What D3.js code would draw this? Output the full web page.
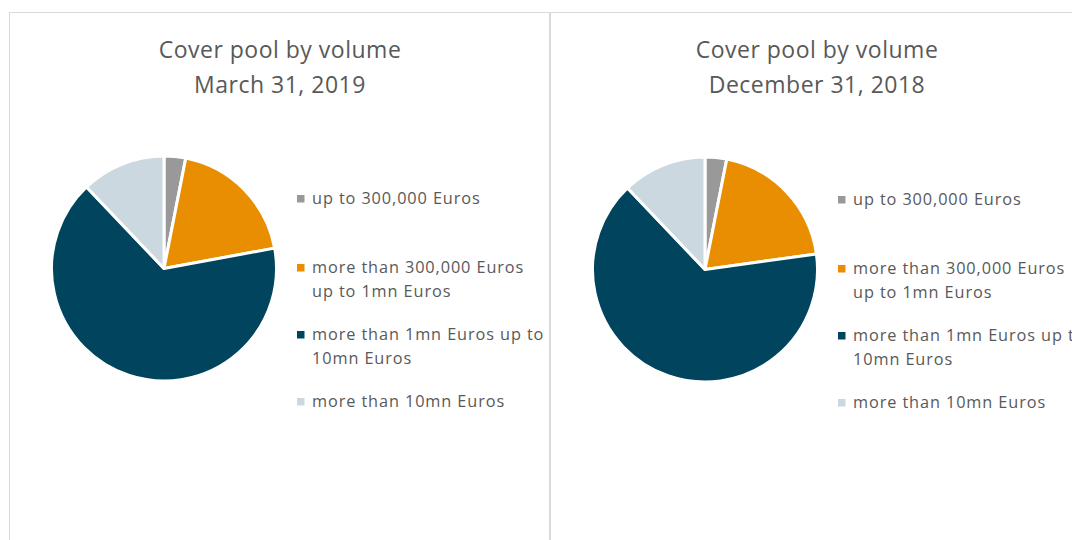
<!DOCTYPE html>
<html>
<head>
<meta charset="utf-8">
<script src="https://cdn.jsdelivr.net/npm/d3@7"></script>
<style>
  html, body { margin: 0; padding: 0; background: #fff; overflow: hidden; }
  text { font-family: "Open Sans", Lato, sans-serif; fill: #595959; }
</style>
</head>
<body>
<div id="chart"></div>
<script>
"use strict";
const categories = [
    "up to 300,000 Euros",
    "more than 300,000 Euros up to 1mn Euros",
    "more than 1mn Euros up to 10mn Euros",
    "more than 10mn Euros"
];
// legend text as it wraps in the picture
const legendLines = [
    ["up to 300,000 Euros"],
    ["more than 300,000 Euros", "up to 1mn Euros"],
    ["more than 1mn Euros up to", "10mn Euros"],
    ["more than 10mn Euros"]
];
const colors = ["#999999", "#E88E00", "#00445E", "#CBD8DF"];
// shares in percent
const march2019 = [3.1, 19.0, 65.8, 12.1];
const dec2018 = [3.1, 19.7, 65.1, 12.1];
const titles = [
    ["Cover pool by volume", "March 31, 2019"],
    ["Cover pool by volume", "December 31, 2018"]
];

const width = 1072;
const height = 540;

const svg = d3.select('#chart').append('svg')
    .attr('width', width)
    .attr('height', height);

// chart frames
svg.append('rect')
    .attr('x', 9.5).attr('y', 12.5)
    .attr('width', 540).attr('height', 600)
    .attr('fill', 'none').attr('stroke', '#D9D9D9');
svg.append('rect')
    .attr('x', 550.5).attr('y', 12.5)
    .attr('width', 600).attr('height', 600)
    .attr('fill', 'none').attr('stroke', '#D9D9D9');

const panels = [
    { values: march2019, title: titles[0], cx: 164, cy: 268.5, tx: 280, lx: 297, ly: 204 },
    { values: dec2018, title: titles[1], cx: 705, cy: 269.5, tx: 817, lx: 838, ly: 205 }
];

const pie = d3.pie().sort(null).value(d => d);
const arc = d3.arc().innerRadius(0).outerRadius(112.5);

// baselines of legend lines, relative to the first one
const legendRows = [[0], [69, 93], [136, 160], [203]];

panels.forEach(p => {
    const g = svg.append('g');

    p.title.forEach((t, k) => {
        g.append('text')
            .attr('x', p.tx).attr('y', 57.5 + k * 35)
            .attr('text-anchor', 'middle')
            .style('font-size', '23px')
            .style('letter-spacing', '0.5px')
            .text(t);
    });

    g.append('g')
        .attr('transform', `translate(${p.cx},${p.cy})`)
        .selectAll('path')
        .data(pie(p.values))
        .join('path')
        .attr('d', arc)
        .attr('fill', (d, i) => colors[i])
        .attr('stroke', '#fff')
        .attr('stroke-width', 3)
        .attr('stroke-linejoin', 'round');

    const leg = g.append('g');
    categories.forEach((c, i) => {
        const y0 = p.ly + legendRows[i][0];
        leg.append('rect')
            .attr('x', p.lx).attr('y', y0 - 9)
            .attr('width', 7.5).attr('height', 7.5)
            .attr('fill', colors[i]);
        legendLines[i].forEach((line, j) => {
            leg.append('text')
                .attr('x', p.lx + 15)
                .attr('y', p.ly + legendRows[i][j])
                .style('font-size', '16.3px')
                .style('letter-spacing', '0.9px')
                .text(line);
        });
    });
});
</script>
</body>
</html>
